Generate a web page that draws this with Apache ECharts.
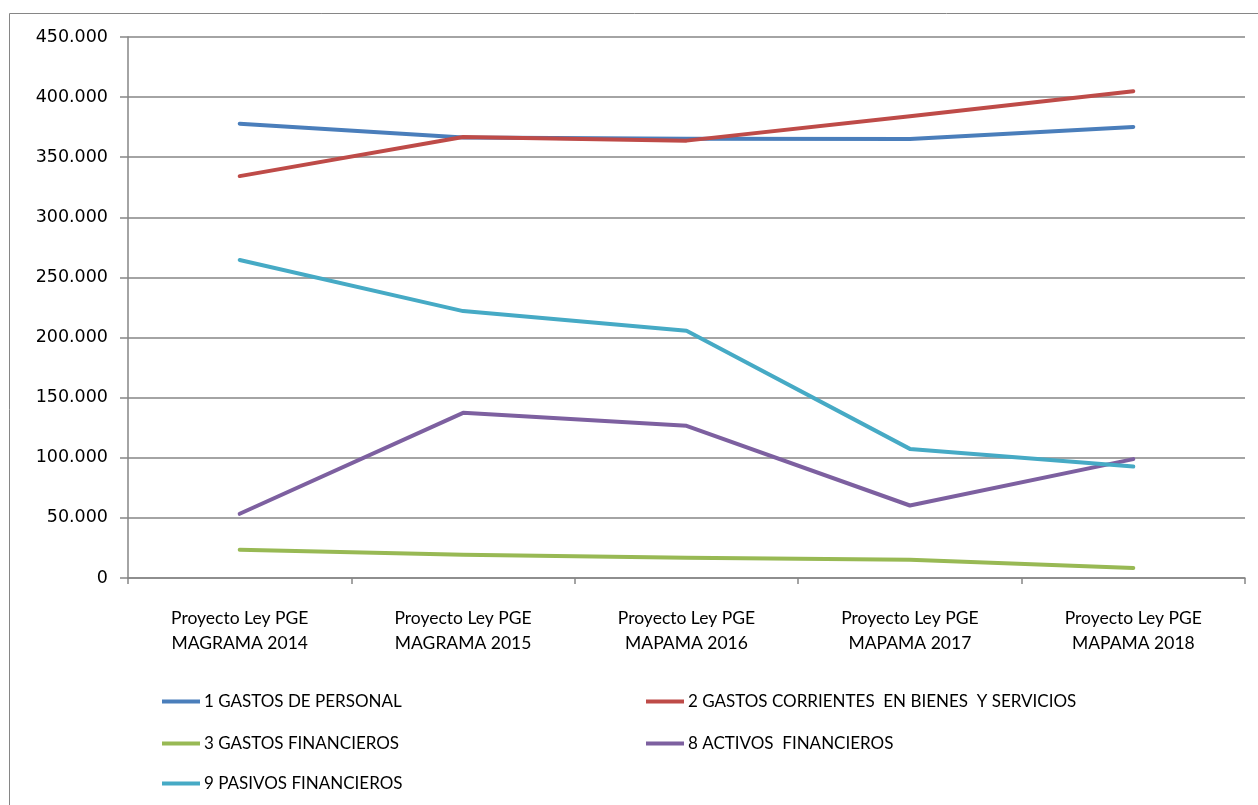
<!DOCTYPE html>
<html>
<head>
<meta charset="utf-8">
<script src="https://cdn.jsdelivr.net/npm/echarts@6/dist/echarts.min.js"></script>
<style>html,body{margin:0;padding:0;background:#fff;}#c{width:1258px;height:805px;}</style>
</head>
<body>
<div id="c"></div>
<script>
const categories = ["Proyecto Ley PGE\nMAGRAMA 2014", "Proyecto Ley PGE\nMAGRAMA 2015", "Proyecto Ley PGE\nMAPAMA 2016", "Proyecto Ley PGE\nMAPAMA 2017", "Proyecto Ley PGE\nMAPAMA 2018"];
const seriesNames = ["1 GASTOS DE PERSONAL", "2 GASTOS CORRIENTES  EN BIENES  Y SERVICIOS", "3 GASTOS FINANCIEROS", "8 ACTIVOS  FINANCIEROS", "9 PASIVOS FINANCIEROS"];
const gastosPersonal = [377900, 366500, 365300, 365200, 375200];
const gastosCorrientes = [334300, 366800, 363800, 384000, 404900];
const gastosFinancieros = [23500, 19400, 16900, 15200, 8300];
const activosFinancieros = [53400, 137400, 126600, 60300, 98900];
const pasivosFinancieros = [264500, 222000, 205600, 107400, 92700];
const colors = ["#4a7ebb", "#be4b48", "#98b954", "#7d60a0", "#46aac5"];
const yTicks = {min: 0, max: 450000, interval: 50000};

const dataList = [gastosPersonal, gastosCorrientes, gastosFinancieros, activosFinancieros, pasivosFinancieros];
const legendPos = [[157, 688], [641, 688], [157, 730], [641, 730], [157, 770]];

const chart = echarts.init(document.getElementById('c'));
function fmt(v){ return String(v).replace(/\B(?=(\d{3})+(?!\d))/g, '.'); }
chart.setOption({
  animation: false,
  backgroundColor: '#fff',
  graphic: [{type:'rect', shape:{x:9.5, y:13.5, width:1260, height:800}, style:{fill:'none', stroke:'#868686', lineWidth:1}, z:-1}],
  grid: {left: 128, right: 13, top: 37, bottom: 227},
  legend: seriesNames.map((n, i) => ({
    data: [n], left: legendPos[i][0], top: legendPos[i][1], icon: 'rect', itemWidth: 38, itemHeight: 4, itemGap: 0,
    textStyle: {fontFamily: 'Lato', fontSize: 17, color: '#000', padding: [0,0,0,-1]}, selectedMode: false
  })),
  xAxis: {
    type: 'category', data: categories, boundaryGap: true,
    axisLine: {lineStyle: {color: '#868686', width: 1.5}},
    axisTick: {show: true, length: 6, lineStyle: {color: '#868686', width: 1.5}},
    axisLabel: {fontFamily: 'Lato', fontSize: 17.5, color: '#000', lineHeight: 25, margin: 28}
  },
  yAxis: {
    type: 'value', min: yTicks.min, max: yTicks.max, interval: yTicks.interval,
    axisLine: {show: true, lineStyle: {color: '#868686', width: 1.5}},
    axisTick: {show: true, length: 8, lineStyle: {color: '#868686', width: 1.5}},
    splitLine: {lineStyle: {color: '#868686', width: 1.5}},
    axisLabel: {fontFamily: 'DejaVu Sans', fontSize: 17.5, color: '#000', margin: 20, formatter: fmt}
  },
  series: seriesNames.map((n, i) => ({
    name: n, type: 'line', data: dataList[i], symbol: 'none', color: colors[i],
    lineStyle: {width: 4, color: colors[i], cap: 'round', join: 'round'}
  }))
});
</script>
</body>
</html>
